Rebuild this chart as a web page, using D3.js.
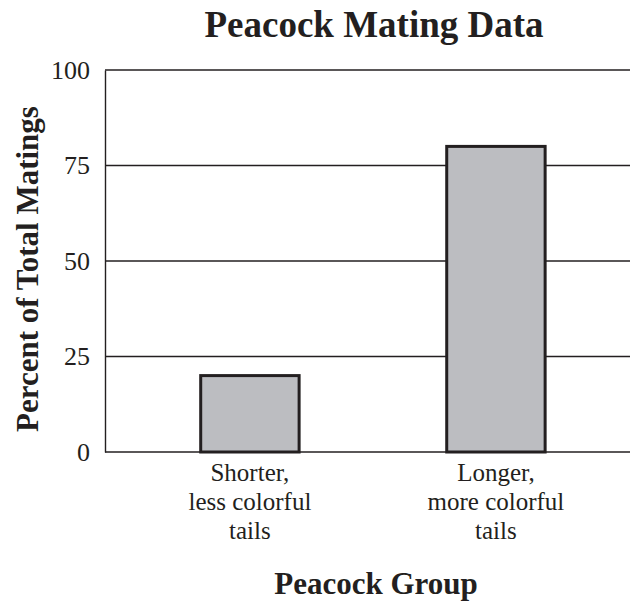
<!DOCTYPE html>
<html>
<head>
<meta charset="utf-8">
<script src="https://cdn.jsdelivr.net/npm/d3@7"></script>
<style>
  body { margin: 0; background: #fff; }
  svg text { font-family: "Liberation Serif", "Times New Roman", serif; fill: #231f20; }
</style>
</head>
<body>
<svg id="chart" width="630" height="602"></svg>
<script>
// chart values
const groups = ["Shorter,\nless colorful\ntails", "Longer,\nmore colorful\ntails"];
const matings = [20, 80];
const yTicks = [0, 25, 50, 75, 100];

const svg = d3.select("#chart");
const margin = { left: 105, right: 0, top: 70, bottom: 150 };
const width = 630, height = 602;

const x = d3.scaleBand()
    .domain(groups)
    .range([margin.left, width - margin.right])
    .paddingInner(0.6)
    .paddingOuter(0.367)
    .align(0.53);

const y = d3.scaleLinear()
    .domain([0, 100])
    .range([height - margin.bottom, margin.top]);

// gridlines
svg.append("g")
    .selectAll("line")
    .data(yTicks)
    .join("line")
    .attr("x1", margin.left)
    .attr("x2", width - margin.right)
    .attr("y1", d => y(d))
    .attr("y2", d => y(d))
    .attr("stroke", "#231f20")
    .attr("stroke-width", 1.4);

// y axis
const yAxis = d3.axisLeft(y).tickValues(yTicks).tickSize(0).tickPadding(15);
svg.append("g")
    .attr("transform", `translate(${margin.left},0)`)
    .call(yAxis)
    .call(g => g.select(".domain").attr("stroke", "#231f20").attr("stroke-width", 1.4))
    .call(g => g.selectAll("text").style("font-size", "26px").style("font-family", "Liberation Serif").attr("fill", "#231f20"));

// bars
svg.append("g")
    .selectAll("rect")
    .data(matings)
    .join("rect")
    .attr("x", (d, i) => x(groups[i]))
    .attr("y", d => y(d))
    .attr("width", x.bandwidth())
    .attr("height", d => y(0) - y(d))
    .attr("fill", "#bcbdc1")
    .attr("stroke", "#231f20")
    .attr("stroke-width", 3);

// category labels
const labels = svg.append("g")
    .selectAll("text")
    .data(groups)
    .join("text")
    .attr("text-anchor", "middle")
    .style("font-size", "25px");
labels.selectAll("tspan")
    .data(d => d.split("\n").map(t => ({ t, c: x(d) + x.bandwidth() / 2 })))
    .join("tspan")
    .attr("x", d => d.c)
    .attr("y", (d, i) => 481 + i * 29)
    .text(d => d.t);

// title
svg.append("text")
    .attr("x", 374)
    .attr("y", 37)
    .attr("text-anchor", "middle")
    .style("font-size", "37px")
    .style("font-weight", "bold")
    .text("Peacock Mating Data");

// axis titles
svg.append("text")
    .attr("x", 376)
    .attr("y", 594)
    .attr("text-anchor", "middle")
    .style("font-size", "31px")
    .style("font-weight", "bold")
    .text("Peacock Group");

svg.append("text")
    .attr("transform", "translate(38,269) rotate(-90)")
    .attr("text-anchor", "middle")
    .style("font-size", "31px")
    .style("font-weight", "bold")
    .text("Percent of Total Matings");
</script>
</body>
</html>
